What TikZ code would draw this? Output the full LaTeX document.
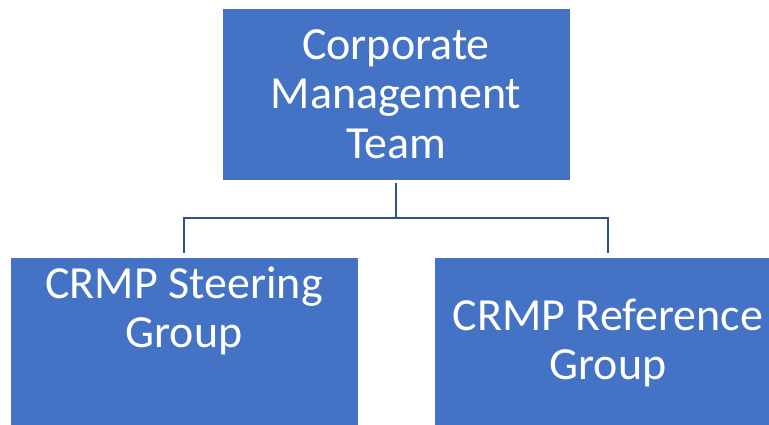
\documentclass[tikz,border=0pt]{standalone}
\usepackage{fontspec}
\setmainfont{Carlito}
\usepackage{xcolor}
\usetikzlibrary{positioning}
\definecolor{boxblue}{HTML}{4472C4}
\definecolor{lineblue}{HTML}{2F528F}
\tikzset{box/.style={rectangle,fill=boxblue,draw=white,line width=0.8pt,minimum width=348pt,minimum height=172pt,inner sep=0pt},
         txt/.style={text=white,align=center,font=\fontsize{46}{49.5}\selectfont},
         link/.style={draw=lineblue,line width=2.8pt,shorten <=3pt,shorten >=4pt}}

\begin{document}
\begin{tikzpicture}[x=1pt,y=-1pt]
    \useasboundingbox (0,0) rectangle (769,425);
    \clip (0,0) rectangle (769,425);

    \node[box] (a) at (396,94) {};
    \node[box] (b) at (184,343) {};
    \node[box] (c) at (608,343) {};

    \node[txt] (ta) at (396,94) {Corporate\\Management\\Team};
    \node[txt] (tb) at (184,311) {CRMP Steering\\Group};
    \node[txt] (tc) at (608,343) {CRMP Reference\\Group};

    \coordinate (m) at (396,218);
    \draw [link] (a.south) -- (m) -| (b.north);
    \draw [link] (a.south) -- (m) -| (c.north);
\end{tikzpicture}
\end{document}
